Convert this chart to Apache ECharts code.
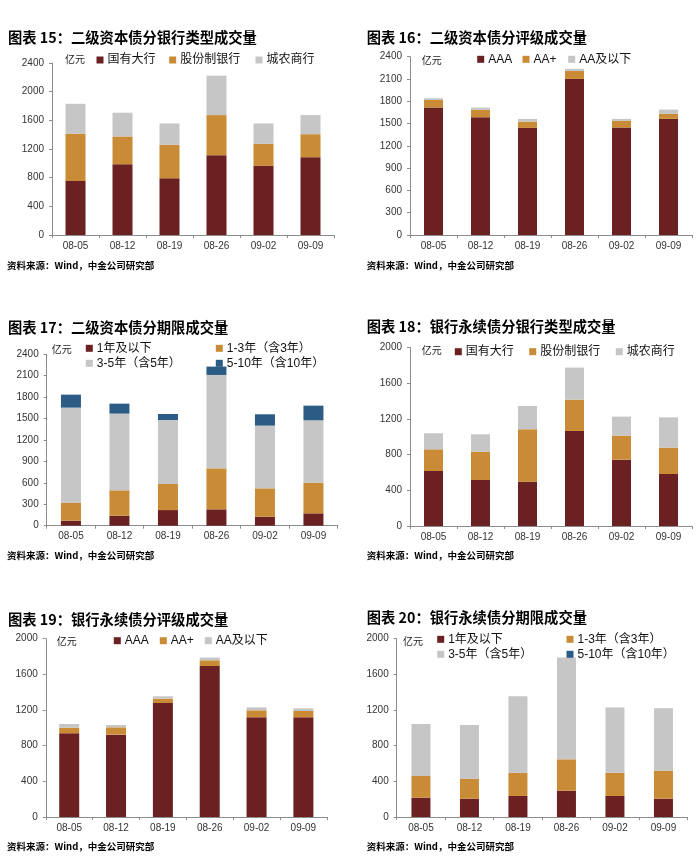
<!DOCTYPE html>
<html><head><meta charset="utf-8">
<script src="https://cdn.jsdelivr.net/npm/echarts@6/dist/echarts.min.js"></script>
<style>html,body{margin:0;padding:0;background:#fff}#c{width:700px;height:859px}</style>
</head><body><div id="c"></div>
<script>
// ---------- data ----------
const categories = ['08-05','08-12','08-19','08-26','09-02','09-09'];
// 图表15 二级资本债分银行类型
const c15_state = [755, 988, 792, 1114, 965, 1086];
const c15_joint = [657, 387, 466, 559, 307, 321];
const c15_rural = [419, 331, 298, 550, 284, 266];
// 图表16 二级资本债分评级
const c16_AAA = [1715, 1585, 1441, 2101, 1446, 1563];
const c16_AAplus = [103, 99, 86, 108, 90, 67];
const c16_AAbelow = [23, 31, 36, 27, 27, 58];
// 图表17 二级资本债分期限
const c17_1y = [70, 140, 219, 229, 126, 173];
const c17_1to3 = [252, 355, 365, 574, 397, 429];
const c17_3to5 = [1331, 1074, 896, 1308, 878, 874];
const c17_5to10 = [182, 140, 84, 117, 159, 205];
// 图表18 银行永续债分银行类型
const c18_state = [617, 516, 497, 1066, 744, 583];
const c18_joint = [243, 318, 588, 351, 270, 296];
const c18_rural = [180, 195, 261, 360, 213, 340];
// 图表19 银行永续债分评级
const c19_AAA = [939, 924, 1279, 1694, 1118, 1118];
const c19_AAplus = [63, 82, 49, 64, 79, 71];
const c19_AAbelow = [41, 26, 26, 30, 33, 30];
// 图表20 银行永续债分期限
const c20_1y = [217, 206, 236, 295, 236, 206];
const c20_1to3 = [243, 224, 261, 352, 261, 314];
const c20_3to5 = [583, 602, 857, 1141, 730, 699];
const c20_5to10 = [0, 0, 0, 0, 0, 0];

const titles = ['图表 15：二级资本债分银行类型成交量','图表 16：二级资本债分评级成交量','图表 17：二级资本债分期限成交量',
                '图表 18：银行永续债分银行类型成交量','图表 19：银行永续债分评级成交量','图表 20：银行永续债分期限成交量'];
const sourceText = '资料来源：Wind，中金公司研究部';
const unitText = '亿元';
const bankNames = ['国有大行','股份制银行','城农商行'];
const ratingNames = ['AAA','AA+','AA及以下'];
const termNames = ['1年及以下','1-3年（含3年）','3-5年（含5年）','5-10年（含10年）'];

// ---------- styles ----------
const RED = '#6B2022', ORANGE = '#C98B35', GRAY = '#C6C6C6', BLUE = '#2C5B86';
const FONT = "'Liberation Sans','Noto Sans CJK SC',sans-serif";

const panels = [
  {grid:{left:52, top:63, width:282, height:172}, max:2400, interval:400, bw:20,
   names:bankNames, data:[c15_state,c15_joint,c15_rural], colors:[RED,ORANGE,GRAY],
   title:[8,30], source:[7,261], unit:[65,60],
   legend:[[96.5,60],[169.2,60],[255.5,60]]},
  {grid:{left:410, top:56.7, width:282, height:178.3}, max:2400, interval:300, bw:19,
   names:ratingNames, data:[c16_AAA,c16_AAplus,c16_AAbelow], colors:[RED,ORANGE,GRAY],
   title:[366.7,30], source:[366.7,261], unit:[421.7,61.7],
   legend:[[477.2,59.3],[522.5,59.3],[568.2,59.3]]},
  {grid:{left:46.7, top:354.3, width:291, height:171.4}, max:2400, interval:300, bw:20,
   names:termNames, data:[c17_1y,c17_1to3,c17_3to5,c17_5to10], colors:[RED,ORANGE,GRAY,BLUE],
   title:[8,320], source:[7,550.5], unit:[51.7,350],
   legend:[[85.8,348.3],[215.8,348.3],[85.8,363.3],[215.8,363.3]]},
  {grid:{left:410, top:347.7, width:282, height:178.3}, max:2000, interval:400, bw:19,
   names:bankNames, data:[c18_state,c18_joint,c18_rural], colors:[RED,ORANGE,GRAY],
   title:[366.7,319], source:[366.7,551], unit:[421.7,351.7],
   legend:[[454.8,351.7],[529.2,351.7],[615.8,351.7]]},
  {grid:{left:45.8, top:638.7, width:281, height:178.3}, max:2000, interval:400, bw:20,
   names:ratingNames, data:[c19_AAA,c19_AAplus,c19_AAbelow], colors:[RED,ORANGE,GRAY],
   title:[8,612], source:[7,841.5], unit:[56.7,642.7],
   legend:[[113.8,640.7],[159.8,640.7],[204.8,640.7]]},
  {grid:{left:396.7, top:638.7, width:291, height:178.3}, max:2000, interval:400, bw:19,
   names:termNames, data:[c20_1y,c20_1to3,c20_3to5,c20_5to10], colors:[RED,ORANGE,GRAY,BLUE],
   title:[366.7,610], source:[366.7,841.5], unit:[403,642.7],
   legend:[[437.2,639.3],[566.5,639.3],[437.2,654.3],[566.5,654.3]]}
];

const option = {backgroundColor:'#fff', animation:false, grid:[], xAxis:[], yAxis:[], series:[], legend:[], graphic:[]};
panels.forEach((p, i) => {
  option.grid.push(p.grid);
  option.xAxis.push({type:'category', gridIndex:i, data:categories,
    axisLine:{lineStyle:{color:'#8c8c8c', width:1}},
    axisTick:{show:true, length:3, lineStyle:{color:'#8c8c8c'}},
    axisLabel:{color:'#333', fontSize:10, fontFamily:FONT, margin:6}});
  option.yAxis.push({type:'value', gridIndex:i, min:0, max:p.max, interval:p.interval,
    axisLine:{show:true, lineStyle:{color:'#8c8c8c', width:1}},
    axisTick:{show:true, length:3, lineStyle:{color:'#8c8c8c'}},
    splitLine:{show:false},
    axisLabel:{color:'#333', fontSize:10, fontFamily:FONT, margin:8, formatter:v => String(v)}});
  p.names.forEach((n, k) => {
    option.series.push({type:'bar', name:n, xAxisIndex:i, yAxisIndex:i, stack:'s'+i,
      data:p.data[k], barWidth:p.bw, itemStyle:{color:p.colors[k]}});
    option.legend.push({data:[n], left:p.legend[k][0], top:p.legend[k][1]-6, padding:0,
      itemWidth:7, itemHeight:7, icon:'rect', selectedMode:false,
      textStyle:{color:'#111', fontSize:12, fontFamily:FONT, padding:[0,0,0,-1]}});
  });
  option.graphic.push({type:'text', left:p.title[0], top:p.title[1],
    style:{text:titles[i], font:"bold 14.3px 'Noto Sans CJK SC',sans-serif", fill:'#000'}});
  option.graphic.push({type:'text', left:p.source[0], top:p.source[1],
    style:{text:sourceText, font:"bold 9.5px 'Noto Sans CJK SC',sans-serif", fill:'#000'}});
  option.graphic.push({type:'text', left:p.unit[0], top:p.unit[1]-6,
    style:{text:unitText, font:"10px 'Noto Sans CJK SC',sans-serif", fill:'#222'}});
});
const chart = echarts.init(document.getElementById('c'), null, {renderer:'canvas'});
chart.setOption(option);
</script></body></html>
